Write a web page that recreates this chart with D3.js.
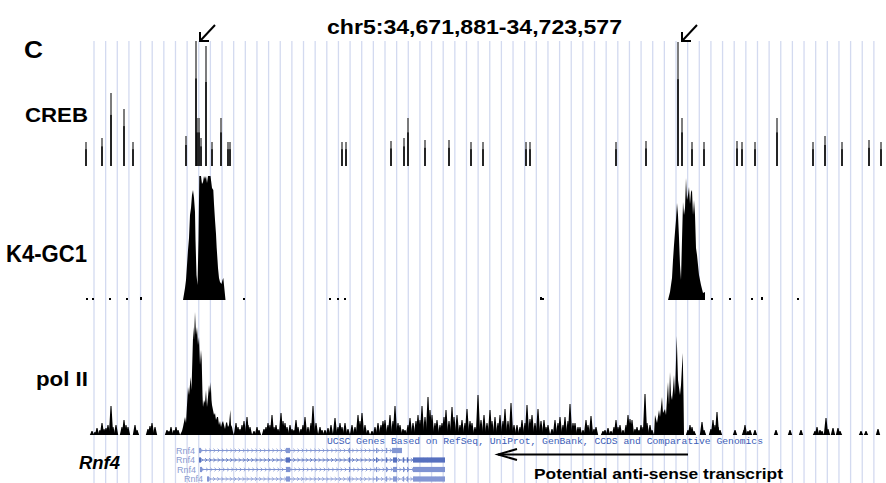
<!DOCTYPE html>
<html><head><meta charset="utf-8">
<script src="https://cdn.jsdelivr.net/npm/d3@7"></script>
<style>body{margin:0;background:#fff}svg{display:block}</style>
</head><body><svg id="c" width="886" height="483"></svg>
<script>
// ---------- DATA (positions in display bins of ~65 bp from window start) ----------
const region = "chr5:34,671,881-34,723,577";
const panelLetter = "C";
const trackNames = ["CREB", "K4-GC1", "pol II"];
const geneLabel = "Rnf4";
const geneTrackTitle = "UCSC Genes Based on RefSeq, UniProt, GenBank, CCDS and Comparative Genomics";
const annotation = "Potential anti-sense transcript";
const arrowBins = [110, 592];

const crebPos = [0,16,25,38,47,100,110,111,113,115,120,126,135,142,144,256,260,305,318,322,339,363,385,397,440,444,530,560,592,596,606,618,651,656,669,691,727,739,756,783,795];
const crebVal = [24,28,73,57,24,30,125,48,48,28,120,24,48,24,24,24,24,25,28,48,26,26,24,24,24,24,24,25,124,48,24,24,25,24,24,48,24,30,24,26,24];

const k4Pos = [97,99,100,102,103,104,105,106,107,108,109,109.5,110.5,111.5,112.5,113.3,115,116,117,118,119,120,121,122,123,124.5,126,127.3,128,129,130,130.7,131.5,132,133,134,135.5,136.5,137.3,138.5,139.5,
               582,584,586,587,588,589,590,591,592,593,594,595,596,597,598,599,600,601,602,603,604,605,606,607,608,609,610,611,613,615,617,619];
const k4Val = [0,12,20,50,62,85,92,105,110,102,88,60,25,15,60,124,124,116,118,124,121,124,117,124,124,124,112,110,96,80,66,52,40,32,22,18,16,20,22,10,0,
               0,8,22,40,55,68,80,97,85,62,35,20,60,98,85,92,122,100,105,113,96,108,110,85,100,85,52,45,25,15,7,8,0];
const k4NoisePos = [1,7,24,41,55,158,244,252,259,455,457,626,644,666,676,712];
const k4NoiseVal = [2,2,2,2,3,2,2,2,2,3,2,2,2,2,3,2];

const polPeakPos = [94,96,97,99,100,102,103,104.7,105.5,106.5,107.3,108,109,110,111,112,113,114,115,115.7,116.5,117,118,119,120,121,122,123,124,124.7,125.5,126,127,128,129,130,131,132,133,134,135,136,137,138,139,140,141,142,143,144.3,145,146,147,148,
                    568,569,571,573,574,576,577,579,580,582,583,584,585,586,587,588,589,590.7,592,594,595,596.7,597.5,598];
const polPeakVal = [0,4,8,18,12,48,40,58,45,80,108,95,123,100,108,90,98,70,85,75,40,28,35,32,45,28,38,50,42,53,35,30,25,20,22,15,18,18,10,14,8,12,14,10,6,12,13,8,10,25,10,8,3,0,
                    0,20,12,25,18,38,22,26,20,53,30,63,40,35,45,60,40,99,55,40,50,82,40,0];
const polSpikePos = [6,9,11,14,16,18,20,22,25,27,30,36,38,40,42,49,51,62,64,66,69,81,83,85,88,90,92,
  150,152,154,156,158,161,162,164,168,171,173,178,180,182,184,186,188,190,192,195,197,199,201,204,206,208,210,212,
  215,217,219,222,225,227,230,234,236,239,242,245,249,252,254,256,259,262,266,269,272,274,276,279,282,286,289,292,295,297,299,302,304,307,309,312,314,317,319,322,324,327,330,332,334,336,339,342,344,346,349,351,354,356,358,360,363,366,368,371,374,376,379,381,384,386,389,392,395,398,401,404,406,409,412,414,417,419,422,425,428,431,434,436,439,441,444,446,449,452,455,458,460,462,466,469,472,474,477,479,482,484,487,489,492,494,497,500,502,505,508,510,
  517,519,522,525,528,530,532,534,537,540,542,544,546,549,551,553,555,557,559,561,564,566,
  602,604,606,608,616,618,625,627,629,631,632,634,649,658,659,662,664,669,690,704,715,729,731,734,736,740,742,747,752,754,775,780,792];
const polSpikeVal = [4,3,7,5,12,6,7,10,29,8,10,8,15,10,8,10,5,6,9,12,8,5,4,8,5,8,5,
  12,8,6,10,14,18,10,8,4,8,5,6,8,12,10,20,8,10,6,22,14,12,8,10,6,5,15,8,
  6,10,18,8,12,29,12,8,5,5,7,10,17,8,12,8,12,6,10,8,20,14,22,10,5,4,8,12,10,14,15,10,20,14,29,12,10,6,5,10,17,12,14,20,15,29,18,38,25,20,12,15,10,12,18,25,14,28,18,20,10,15,12,26,14,12,8,40,15,20,12,25,14,18,12,20,14,26,14,32,10,10,8,15,12,30,16,20,12,26,14,15,8,10,6,15,12,18,10,18,14,31,12,12,8,8,5,15,10,19,6,8,
  4,5,7,4,8,15,8,10,5,10,20,16,15,6,8,5,10,8,41,12,10,5,
  5,10,8,4,13,5,6,15,10,23,8,5,5,5,10,4,5,5,5,5,5,4,8,5,4,17,6,7,7,4,4,4,6];

// gene models (4 transcripts of Rnf4)
const txNames = ["Rnf4", "Rnf4", "Rnf4", "Rnf4"];
const txStart = [113, 113, 114, 121];
const txEnd = [316, 359, 359, 359];
const exonStarts = [[113,200,263,290,300,306],[113,200,263,290,300,307,317,321,327],[114,200,263,290,300,307,317,321,327],[121,200,263,290,300,307,317,321,327]];
const exonEnds   = [[115,204,264,291,301,316],[115,204,264,291,301,311,318,322,359],[116,204,264,291,301,311,318,322,359],[123,204,264,291,301,311,318,322,359]];
const antisenseFrom = 602, antisenseTo = 412;

// ---------- DRAWING ----------
const svg = d3.select("#c");
const x = d3.scaleLinear().domain([0, 796]).range([86, 882]);
const yCreb = d3.scaleLinear().domain([0, 125]).range([166, 41]);
const yK4 = d3.scaleLinear().domain([0, 124]).range([300, 176]);
const yPol = d3.scaleLinear().domain([0, 125]).range([435, 310]);
const FONT = "'Liberation Sans', Arial, Helvetica, sans-serif";

// guide lines
svg.append("g").selectAll("line").data(d3.range(68)).join("line")
  .attr("x1", i => 94 + i * 11.64).attr("x2", i => 94 + i * 11.64)
  .attr("y1", 41).attr("y2", 483)
  .attr("stroke", "#d3daf0").attr("stroke-width", 1.3);

// CREB spikes
const cg = svg.append("g");
const creb = crebPos.map((p, i) => ({p, v: crebVal[i]}));
cg.selectAll("rect.g").data(creb).join("rect")
  .attr("x", d => x(d.p) - 0.9).attr("width", 1.8)
  .attr("y", d => yCreb(d.v)).attr("height", d => yCreb(0) - yCreb(d.v))
  .attr("fill", "#6e6e6e");
cg.selectAll("rect.b").data(creb).join("rect")
  .attr("x", d => x(d.p) - 0.7).attr("width", 1.4)
  .attr("y", d => yCreb(d.v * 0.7)).attr("height", d => yCreb(0) - yCreb(d.v * 0.7))
  .attr("fill", "#000");

// K4 area
const k4 = k4Pos.map((p, i) => ({p, v: k4Val[i]}));
const k4Segs = [k4.filter(d => d.p < 300), k4.filter(d => d.p > 300)];
const areaK4 = d3.area().x(d => x(d.p)).y0(yK4(0)).y1(d => yK4(d.v));
svg.append("g").selectAll("path").data(k4Segs).join("path").attr("d", areaK4).attr("fill", "#000");
svg.append("g").selectAll("rect").data(k4NoisePos.map((p, i) => ({p, v: k4NoiseVal[i]}))).join("rect")
  .attr("x", d => x(d.p) - 1).attr("width", 2)
  .attr("y", d => yK4(d.v)).attr("height", d => yK4(0) - yK4(d.v)).attr("fill", "#000");

// pol II
const pol = polPeakPos.map((p, i) => ({p, v: polPeakVal[i]}));
const polSegs = [pol.filter(d => d.p < 300), pol.filter(d => d.p > 300)];
const areaPol = d3.area().x(d => x(d.p)).y0(yPol(0)).y1(d => yPol(d.v));
svg.append("g").selectAll("path").data(polSegs).join("path").attr("d", areaPol).attr("fill", "#000");
svg.append("g").selectAll("path").data(polSpikePos.map((p, i) => ({p, v: polSpikeVal[i]}))).join("path")
  .attr("d", d => {
    const cx = x(d.p), b = yPol(0), t = yPol(d.v), m = yPol(d.v * 0.45);
    return `M${cx - 2.2},${b}L${cx - 1.4},${m}L${cx - 0.5},${t}L${cx + 0.5},${t}L${cx + 1.4},${m}L${cx + 2.2},${b}Z`;
  })
  .attr("fill", "#000");

// gene track
svg.append("text").attr("x", 327).attr("y", 444).text(geneTrackTitle)
  .attr("font-family", "'Liberation Mono', 'DejaVu Sans Mono', monospace").attr("font-size", 9.2)
  .attr("textLength", 436).attr("lengthAdjust", "spacingAndGlyphs").attr("fill", "#3a5cb6");

const rowY = [450.5, 460, 469.5, 479];
const rowCol = ["#8397d3", "#5670bf", "#7f93d2", "#8497d4"];
const gg = svg.append("g");
txNames.forEach((nm, r) => {
  const g = gg.append("g").attr("stroke", rowCol[r]).attr("fill", rowCol[r]);
  const y0 = rowY[r];
  g.append("text").attr("x", x(txStart[r]) - 4).attr("y", y0 + 3.2).attr("text-anchor", "end")
    .attr("font-family", FONT).attr("font-size", 9).attr("stroke", "none").attr("fill", "#8a9ad0").text(nm);
  g.append("line").attr("x1", x(txStart[r])).attr("x2", x(txEnd[r])).attr("y1", y0).attr("y2", y0).attr("stroke-width", 1);
  const cx = d3.range(x(txStart[r]) + 3, x(txEnd[r]) - 2, 4.2);
  g.selectAll("path.ch").data(cx).join("path")
    .attr("d", c => `M${c - 1.2},${y0 - 1.8}L${c + 0.8},${y0}L${c - 1.2},${y0 + 1.8}`)
    .attr("fill", "none").attr("stroke-width", 0.8);
  g.selectAll("rect").data(exonStarts[r].map((s, i) => ({s, e: exonEnds[r][i]}))).join("rect")
    .attr("x", d => x(d.s)).attr("width", d => Math.max(1.2, x(d.e) - x(d.s)))
    .attr("y", y0 - 2.6).attr("height", 5.2).attr("stroke", "none");
});

// antisense arrow
const ag = svg.append("g").attr("stroke", "#000").attr("stroke-width", 2).attr("fill", "none");
ag.append("line").attr("x1", x(antisenseFrom)).attr("x2", x(antisenseTo)).attr("y1", 454.5).attr("y2", 454.5);
ag.append("path").attr("d", `M${x(antisenseTo) + 19},449L${x(antisenseTo)},454.5L${x(antisenseTo) + 19},460`);

// arrows at top
const tg = svg.append("g").attr("stroke", "#000").attr("stroke-width", 2).attr("fill", "none");
arrowBins.forEach(b => {
  const tx = x(b) + 4, ty = 41;
  tg.append("line").attr("x1", tx + 15).attr("y1", ty - 16).attr("x2", tx + 1).attr("y2", ty - 1);
  tg.append("path").attr("d", `M${tx},${ty - 9}L${tx},${ty}L${tx + 9},${ty}`);
});

// texts
function label(t, x0, x1, y, size, opts = {}) {
  svg.append("text").attr("x", x0).attr("y", y).text(t)
    .attr("font-family", FONT).attr("font-weight", "bold").attr("font-size", size)
    .attr("font-style", opts.italic ? "italic" : "normal")
    .attr("textLength", x1 - x0).attr("lengthAdjust", "spacingAndGlyphs").attr("fill", "#000");
}
label(region, 327, 622, 34, 20);
label(panelLetter, 24, 43, 58, 23);
label(trackNames[0], 25, 88, 121.5, 21);
label(trackNames[1], 6, 87, 262, 23);
label(trackNames[2], 36, 88, 386, 20);
label(geneLabel, 79, 120, 469, 19, {italic: true});
label(annotation, 534, 783, 479, 15.5);
</script>
</body></html>
